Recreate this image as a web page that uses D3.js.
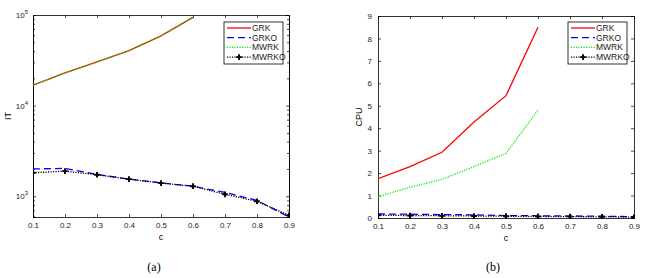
<!DOCTYPE html>
<html><head><meta charset="utf-8">
<script src="https://cdn.jsdelivr.net/npm/d3@7"></script>
<style>body{margin:0;background:#fff}svg{display:block}</style>
</head><body>
<script>
const cVals = [0.1,0.2,0.3,0.4,0.5,0.6,0.7,0.8,0.9];
const xTicks = [0.1,0.2,0.3,0.4,0.5,0.6,0.7,0.8,0.9];
const seriesNames = ["GRK","GRKO","MWRK","MWRKO"];
// (a) iterations
const itGRK   = [16800,23000,30300,40400,58900,94000];
const itGRKO  = [2000,2030,1740,1545,1405,1290,1100,900,590];
const itMWRK  = [16700,22900,30200,40300,58700,94500];
const itMWRKO = [1815,1895,1725,1545,1395,1290,1050,880,615];
const itMajorTicks = [1e3,1e4,1e5];
const itExp = ["3","4","5"];
// (b) CPU
const cpuGRK   = [1.75,2.29,2.93,4.28,5.45,8.5];
const cpuGRKO  = [0.18,0.17,0.15,0.14,0.11,0.10,0.09,0.08,0.06];
const cpuMWRK  = [0.95,1.37,1.72,2.29,2.88,4.81];
const cpuMWRKO = [0.12,0.11,0.10,0.09,0.08,0.07,0.06,0.05,0.04];
const cpuTicks = [0,1,2,3,4,5,6,7,8,9];

const W=649,H=278;
const svg=d3.select("body").append("svg").attr("width",W).attr("height",H);
const font="Liberation Sans, Arial, sans-serif";

const styles = {
  GRK:{stroke:"#ff0000",dash:null,w:1.3},
  GRKO:{stroke:"#0000ff",dash:"7,4",w:1.3},
  MWRK:{stroke:"#00ee00",dash:"1.2,1.3",w:1.3},
  MWRKO:{stroke:"#000000",dash:"1.2,1.3",w:1.3}
};

function panel(opt){
  const {x0,x1,y0,y1,yScale,data,yTicks,yLabel,yTickFmt,minor,legendX,caption,captionX,yLabelX}=opt;
  const g=svg.append("g");
  const x=d3.scaleLinear().domain([0.1,0.9]).range([x0,x1]);
  const y=yScale.range([y1,y0]);
  const clipId="clip"+x0;
  g.append("clipPath").attr("id",clipId).append("rect").attr("x",x0).attr("y",y0-1).attr("width",x1-x0).attr("height",y1-y0+2);
  const bottom=g.append("g").attr("transform",`translate(0,${y1})`).call(d3.axisBottom(x).tickValues(xTicks).tickFormat(d3.format(".1f")).tickSize(-3).tickPadding(5));
  const top=g.append("g").attr("transform",`translate(0,${y0})`).call(d3.axisTop(x).tickValues(xTicks).tickFormat("").tickSize(-3));
  const left=g.append("g").attr("transform",`translate(${x0},0)`).call(d3.axisLeft(y).tickValues(yTicks).tickFormat(yTickFmt?"" :d3.format("d")).tickSize(-3).tickPadding(6));
  const right=g.append("g").attr("transform",`translate(${x1},0)`).call(d3.axisRight(y).tickValues(yTicks).tickFormat("").tickSize(-3));
  if(minor){
    g.append("g").attr("transform",`translate(${x0},0)`).call(d3.axisLeft(y).tickValues(minor).tickFormat("").tickSize(-2));
    g.append("g").attr("transform",`translate(${x1},0)`).call(d3.axisRight(y).tickValues(minor).tickFormat("").tickSize(-2));
  }
  g.selectAll(".domain").attr("stroke","#000").attr("stroke-width",0.8);
  g.selectAll(".tick line").attr("stroke","#000").attr("stroke-width",0.7);
  g.selectAll(".tick text").attr("font-family",font).attr("font-size",8).attr("fill","#222");
  if(yTickFmt){
    left.selectAll(".tick").each(function(d,i){
      const t=d3.select(this).select("text");
      t.text("").attr("x",-5);
      t.append("tspan").text("10");
      t.append("tspan").text(itExp[i]).attr("dy",-4).attr("font-size",6);
    });
  }
  const lg=g.append("g").attr("clip-path",`url(#${clipId})`);
  seriesNames.forEach(n=>{
    const vals=data[n];
    const pts=vals.map((v,i)=>[cVals[i],v]);
    const s=styles[n];
    lg.append("path").datum(pts).attr("fill","none").attr("stroke",s.stroke).attr("stroke-width",s.w)
      .attr("stroke-dasharray",s.dash).attr("d",d3.line().x(d=>x(d[0])).y(d=>y(d[1])));
    if(n==="MWRKO"){
      lg.selectAll(null).data(pts).enter().append("path")
        .attr("d",d3.symbol(d3.symbolCross,18)()).attr("transform",d=>`translate(${x(d[0])},${y(d[1])})`).attr("fill","#000");
    }
  });
  g.append("text").attr("x",(x0+x1)/2).attr("y",y1+23).attr("text-anchor","middle").attr("font-family",font).attr("font-size",9).text("c");
  g.append("text").attr("transform",`translate(${yLabelX},${(y0+y1)/2}) rotate(-90)`).attr("text-anchor","middle").attr("font-family",font).attr("font-size",9).text(yLabel);
  g.append("text").attr("x",captionX).attr("y",271).attr("text-anchor","middle").attr("font-family","Liberation Serif, Times New Roman, serif").attr("font-size",12).text(caption);
  const L=g.append("g");
  L.append("rect").attr("x",legendX).attr("y",22).attr("width",59).attr("height",42).attr("fill","#fff").attr("stroke","#000").attr("stroke-width",0.8);
  seriesNames.forEach((n,i)=>{
    const yy=28+i*9.7;const s=styles[n];
    L.append("line").attr("x1",legendX+3).attr("x2",legendX+27).attr("y1",yy).attr("y2",yy).attr("stroke",s.stroke).attr("stroke-width",s.w).attr("stroke-dasharray",s.dash);
    if(n==="MWRKO") L.append("path").attr("d",d3.symbol(d3.symbolCross,18)()).attr("transform",`translate(${legendX+15},${yy})`);
    L.append("text").attr("x",legendX+28).attr("y",yy+3).attr("font-family",font).attr("font-size",8.5).attr("fill","#222").text(n);
  });
}

const minorLog=[];
[100,1000,10000].forEach(b=>{for(let k=2;k<=9;k++){const v=b*k;if(v>=590&&v<=1e5)minorLog.push(v);}});

panel({x0:33,x1:289,y0:15,y1:217,yScale:d3.scaleLog().domain([590,1e5]),
  data:{GRK:itGRK,GRKO:itGRKO,MWRK:itMWRK,MWRKO:itMWRKO},yTicks:itMajorTicks,yTickFmt:true,minor:minorLog,
  yLabel:"IT",yLabelX:11,legendX:224,caption:"(a)",captionX:154});
panel({x0:378,x1:634,y0:16,y1:218,yScale:d3.scaleLinear().domain([0,9]),
  data:{GRK:cpuGRK,GRKO:cpuGRKO,MWRK:cpuMWRK,MWRKO:cpuMWRKO},yTicks:cpuTicks,yTickFmt:false,minor:null,
  yLabel:"CPU",yLabelX:362,legendX:568,caption:"(b)",captionX:493});
</script>
</body></html>
